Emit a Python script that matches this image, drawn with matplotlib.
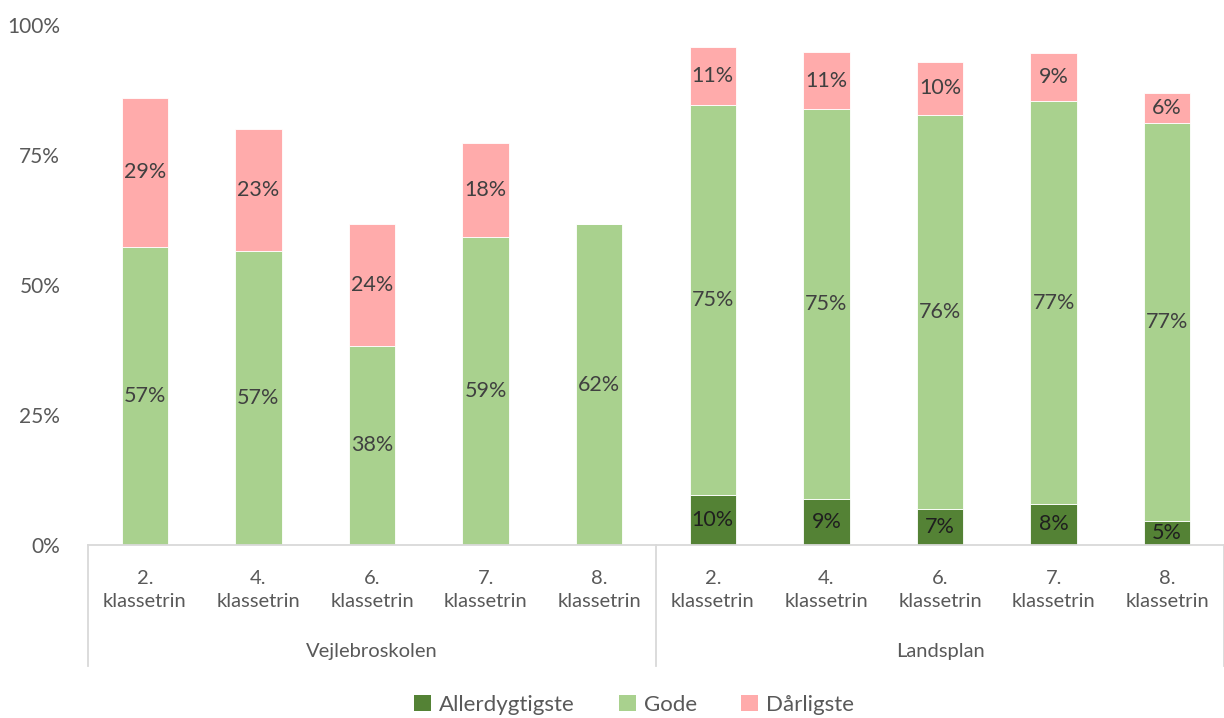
import matplotlib.pyplot as plt
import numpy as np
from matplotlib.patches import Patch

plt.rcParams['font.family'] = ['Lato', 'DejaVu Sans']

groups = ['Vejlebroskolen', 'Landsplan']
grades = ['2.\nklassetrin', '4.\nklassetrin', '6.\nklassetrin', '7.\nklassetrin', '8.\nklassetrin']

# values in percent, one per bar (5 school bars, then 5 national bars)
allerdygtigste = [0, 0, 0, 0, 0, 9.6, 8.8, 6.9, 7.9, 4.6]
gode = [57.3, 56.6, 38.3, 59.2, 61.7, 75.0, 75.0, 75.8, 77.4, 76.6]
daarligste = [28.7, 23.4, 23.5, 18.1, 0, 11.2, 11.0, 10.2, 9.4, 5.8]

series = [('Allerdygtigste', allerdygtigste, '#548235'),
          ('Gode', gode, '#A9D18E'),
          ('Dårligste', daarligste, '#FFABAB')]

fig = plt.figure(figsize=(12.24, 7.18), dpi=100)
ax = fig.add_axes([88/1224, 1 - 545/718, 1 - 88/1224, 520/718])

x = np.arange(len(gode))
bottom = np.zeros(len(x))
for name, vals, col in series:
    vals = np.array(vals)
    ax.bar(x, vals / 100, 0.41, bottom=bottom / 100, color=col, edgecolor='white', linewidth=0.6)
    for xi, v, b in zip(x, vals, bottom):
        if v > 0:
            ax.text(xi, (b + v / 2) / 100, '{:.0f}%'.format(v), ha='center', va='center',
                    fontsize=15.5, color='#1f1f1f' if name == 'Allerdygtigste' else '#404040')
    bottom = bottom + vals

ax.set_xlim(-0.5, 9.5)
ax.set_ylim(0, 1)
ax.set_yticks([0, 0.25, 0.5, 0.75, 1.0])
ax.set_yticklabels(['0%', '25%', '50%', '75%', '100%'])
ax.tick_params(axis='y', length=0, labelsize=15, labelcolor='#595959', pad=20)
ax.set_xticks([])
for s in ['top', 'right', 'left']:
    ax.spines[s].set_visible(False)
ax.spines['bottom'].set_color('#D9D9D9')
ax.spines['bottom'].set_linewidth(1.3)

tr = ax.get_xaxis_transform()
for i in range(len(x)):
    ax.text(x[i], -0.087, grades[i % 5], transform=tr, ha='center', va='center',
            fontsize=14.5, color='#595959', linespacing=1.45)
for g, name in enumerate(groups):
    ax.text(2 + 5 * g, -0.205, name, transform=tr, ha='center', va='center',
            fontsize=14.5, color='#595959')
for xv in [-0.5, 4.5, 9.5]:
    ax.plot([xv, xv], [0, -0.233], transform=tr, color='#D9D9D9', lw=1.3, clip_on=False)

handles = [Patch(facecolor=c, edgecolor='none', label=n) for n, _, c in series]
leg = fig.legend(handles=handles, loc='center', bbox_to_anchor=(634/1224, 1 - 705/718), ncol=3,
                 frameon=False, fontsize=16, handlelength=0.75, handleheight=0.75,
                 handletextpad=0.35, columnspacing=2.0)
for t in leg.get_texts():
    t.set_color('#595959')

fig.savefig('out.png', dpi=100)
